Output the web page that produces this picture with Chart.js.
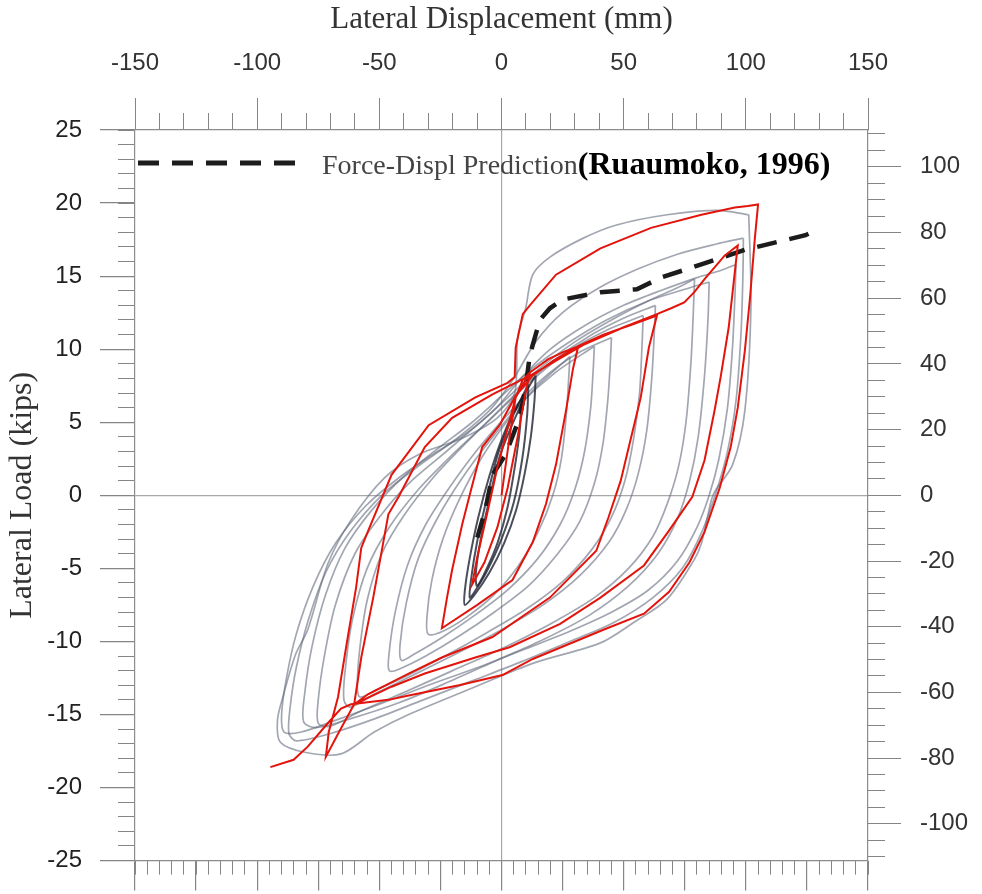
<!DOCTYPE html>
<html>
<head>
<meta charset="utf-8">
<title>Lateral Load vs Lateral Displacement</title>
<script src="https://cdn.jsdelivr.net/npm/chart.js@4.4.1/dist/chart.umd.min.js"></script>
<style>
    html, body { margin: 0; padding: 0; background: #fff; }
    #wrap { position: relative; width: 982px; height: 894px; }
    #legend-line { position: absolute; left: 136px; top: 158px; }
    #legend-text { position: absolute; left: 322px; top: 145px; white-space: nowrap; line-height: 1; }
    #legend-text .pred { font: 28px 'Liberation Serif', 'Times New Roman', serif; color: #444; }
    #legend-text .ref { font: bold 32px 'Liberation Serif', 'Times New Roman', serif; color: #000; }
</style>
</head>
<body>
<div id="wrap">
    <canvas id="chart"></canvas>
    <svg id="legend-line" width="170" height="10">
        <line x1="2" y1="5" x2="164" y2="5" stroke="#1c1c1c" stroke-width="5" stroke-dasharray="21 13"/>
    </svg>
    <div id="legend-text"><span class="pred">Force-Displ Prediction</span><span class="ref">(Ruaumoko, 1996)</span></div>
</div>
<script>
// Tick labels
const mmTicks = [-150, -100, -50, 0, 50, 100, 150]
const kipTicks = [-25, -20, -15, -10, -5, 0, 5, 10, 15, 20, 25]
const kNTicks = [-100, -80, -60, -40, -20, 0, 20, 40, 60, 80, 100]

// Ruaumoko analysis, [displacement mm, load kips]
const ruaumoko = [
    [0, 0], [3.3, 4.0], [5.8, 6.7], [8.7, 7.9], [11.6, 8.4],
    [9.5, 6.7], [6.6, 4.0], [2.5, 0.5], [-1.7, -2.2], [-7.0, -4.6], [-12.0, -6.1],
    [-9.9, -4.2], [-5.8, -1.2], [-1.7, 1.9], [2.5, 4.6], [5.8, 6.7], [11.6, 8.4],
    [19.0, 9.3], [25.2, 9.8], [31.4, 10.2],
    [29.3, 8.7], [26.4, 5.8], [22.3, 2.1], [18.2, -0.6], [12.8, -3.2], [4.5, -5.8], [-9.9, -7.5], [-24.4, -9.1],
    [-22.3, -7.0], [-20.2, -5.1], [-16.1, -2.0], [-13.2, -0.1], [-7.9, 3.3], [-0.8, 4.8], [5.8, 6.8],
    [12.8, 8.2], [21.1, 9.2], [31.4, 10.2], [41.7, 11.0], [52.1, 11.6], [63.6, 12.3],
    [60.3, 10.1], [57.0, 6.7], [52.1, 3.3], [48.8, 1.0], [43.8, -1.5], [38.8, -3.8], [19.8, -7.0],
    [-3.7, -9.7], [-24.4, -11.1], [-38.0, -12.2], [-54.5, -13.6], [-60.3, -14.3],
    [-57.4, -11.1], [-52.5, -7.0], [-46.3, -1.3], [-42.1, -0.1], [-31.4, 3.3], [-20.2, 5.3], [-3.7, 6.9],
    [12.8, 8.3], [33.5, 10.3], [50.0, 11.5], [63.6, 12.4],
    [69.4, 12.8], [74.8, 13.2], [78.9, 13.9], [83.1, 14.8], [91.3, 16.4], [96.7, 17.1],
    [95.9, 15.9], [93.0, 11.5], [89.7, 8.1], [87.2, 5.8], [83.1, 2.4], [78.1, -0.1], [68.2, -2.5],
    [58.3, -4.8], [40.5, -7.0], [24.0, -8.8], [3.3, -10.4], [-10.7, -11.1], [-31.4, -12.2],
    [-45.0, -13.1], [-60.3, -14.3], [-66.5, -16.2], [-71.9, -17.9],
    [-70.7, -16.2], [-66.9, -13.8], [-63.6, -10.4], [-59.5, -6.3], [-57.4, -3.6], [-54.5, -2.4],
    [-45.0, 1.4], [-29.8, 4.8], [-10.7, 6.7], [2.5, 7.7], [5.4, 8.1],
    [5.8, 10.1], [8.7, 12.4], [11.6, 13.0], [22.3, 15.1], [40.5, 16.9], [61.2, 18.3],
    [81.8, 19.2], [95.5, 19.7], [100.8, 19.8], [105.0, 19.9],
    [103.7, 17.6], [101.7, 13.5], [99.6, 9.9], [96.7, 6.0], [93.8, 3.3], [89.3, 0.5], [83.1, -2.5],
    [76.9, -4.6], [68.6, -6.6], [58.3, -8.1], [41.7, -9.2], [12.8, -11.2], [0.4, -12.3],
    [-17.4, -13.0], [-38.0, -13.7], [-46.3, -14.0], [-61.6, -14.3], [-65.7, -14.6],
    [-71.1, -15.6], [-79.3, -17.2], [-85.1, -18.1], [-94.6, -18.6]
]

// Force-displacement prediction (dashed)
const prediction = [
    [-9.9, -2.9], [-6.6, -1.0], [-3.7, 1.4], [1.7, 2.8], [7.4, 5.3], [9.9, 7.4],
    [11.6, 9.6], [15.7, 12.0], [19.8, 12.8], [25.2, 13.4], [40.5, 13.9], [55.4, 14.1],
    [65.3, 14.9], [81.8, 15.8], [99.6, 16.8], [124.4, 17.8], [127.0, 18.0]
]

// Test loops (grey)
const testLoop7 = [
    [101.2, 19.2], [102.1, 13.0], [99.6, 5.8], [94.6, 2.1], [86.8, 0.1], [84.3, -1.5], [81.8, -3.3],
    [78.9, -4.4], [67.8, -7.1], [54.1, -8.7], [40.5, -10.1], [12.8, -11.5], [-10.7, -13.1],
    [-38.0, -15.0], [-52.1, -16.2], [-65.7, -17.7], [-80.0, -17.6], [-90.5, -16.9], [-91.7, -15.4],
    [-89.3, -13.7], [-84.3, -10.9], [-79.3, -9.2], [-71.1, -4.7], [-61.6, -1.7], [-47.9, 1.2],
    [-33.9, 2.8], [-16.1, 3.9], [-1.7, 5.3], [5.4, 7.0], [6.6, 10.8], [9.9, 12.8], [12.8, 15.1],
    [19.8, 16.3], [33.5, 17.6], [47.1, 18.5], [67.8, 19.2], [88.4, 19.5], [101.2, 19.2]
]
const testLoop6b = [
    [99.0, 17.6], [98.8, 15.0], [98.0, 11.0], [96.0, 6.5], [92.5, 3.0], [88.0, 0.3], [82.0, -2.5],
    [74.0, -5.0], [62.0, -7.0], [46.0, -8.7], [28.0, -10.0], [8.0, -11.4], [-12.0, -12.7],
    [-32.0, -14.0], [-52.0, -15.3], [-70.0, -16.3], [-84.0, -16.8], [-87.0, -16.3], [-86.5, -14.5],
    [-84.0, -11.8], [-79.0, -8.5], [-72.0, -5.3], [-62.0, -2.5], [-49.0, 0.0], [-34.0, 2.0],
    [-19.0, 3.8], [-5.0, 5.8], [5.0, 8.0], [14.0, 10.5], [25.0, 12.5], [40.0, 14.2], [56.0, 15.5],
    [72.0, 16.5], [88.0, 17.2], [99.0, 17.6]
]
const testLoop6 = [
    [96.0, 15.8], [95.5, 13.5], [94.5, 10.0], [92.5, 6.0], [89.0, 2.5], [85.0, 0.0], [80.0, -2.2],
    [72.0, -4.5], [60.0, -6.5], [45.0, -8.0], [28.0, -9.3], [10.0, -10.5], [-10.0, -11.8],
    [-30.0, -13.0], [-50.0, -14.3], [-68.0, -15.4], [-82.0, -16.2], [-89.0, -16.2], [-90.0, -15.0],
    [-88.0, -12.5], [-84.0, -9.5], [-77.0, -6.2], [-68.0, -3.3], [-56.0, -0.8], [-42.0, 1.2],
    [-28.0, 2.8], [-14.0, 4.3], [-2.0, 6.0], [8.0, 8.0], [20.0, 10.0], [35.0, 11.7], [50.0, 13.0],
    [65.0, 14.0], [80.0, 14.9], [90.0, 15.4], [96.0, 15.8]
]
const testLoop5b = [
    [85.0, 14.6], [84.5, 12.0], [83.0, 8.0], [80.5, 4.0], [77.0, 1.0], [72.0, -1.6], [64.0, -4.0],
    [52.0, -6.2], [36.0, -8.2], [18.0, -9.8], [-2.0, -11.3], [-22.0, -12.8], [-42.0, -14.2],
    [-62.0, -15.3], [-76.0, -15.9], [-81.0, -15.5], [-80.5, -13.5], [-77.5, -10.3], [-72.0, -6.8],
    [-64.0, -3.6], [-53.0, -1.0], [-40.0, 1.3], [-26.0, 3.2], [-12.0, 5.0], [0.0, 6.8], [12.0, 8.6],
    [27.0, 10.4], [43.0, 12.0], [60.0, 13.3], [75.0, 14.1], [85.0, 14.6]
]
const testLoop5 = [
    [79.0, 14.8], [78.5, 12.5], [77.5, 9.0], [75.5, 5.0], [72.5, 2.0], [68.0, -0.5], [62.0, -2.8],
    [52.0, -5.0], [38.0, -7.0], [20.0, -8.8], [0.0, -10.5], [-20.0, -12.0], [-40.0, -13.5],
    [-58.0, -14.8], [-70.0, -15.8], [-75.0, -15.6], [-75.0, -14.0], [-72.5, -11.0], [-68.0, -7.5],
    [-60.0, -4.0], [-50.0, -1.5], [-38.0, 0.8], [-24.0, 2.8], [-10.0, 4.8], [2.0, 6.6], [15.0, 8.6],
    [30.0, 10.5], [45.0, 12.0], [60.0, 13.3], [72.0, 14.2], [79.0, 14.8]
]
const testLoop4b = [
    [58.0, 12.3], [57.5, 10.2], [56.5, 7.0], [54.0, 3.8], [50.5, 1.0], [45.0, -1.5], [37.0, -3.7],
    [25.0, -5.9], [10.0, -7.8], [-6.0, -9.4], [-22.0, -10.9], [-38.0, -12.3], [-51.0, -13.3],
    [-58.0, -13.8], [-59.0, -13.0], [-58.0, -10.5], [-55.0, -7.2], [-49.0, -4.0], [-40.0, -1.4],
    [-28.0, 1.2], [-15.0, 3.5], [-2.0, 5.6], [12.0, 7.8], [27.0, 9.8], [43.0, 11.3], [58.0, 12.3]
]
const testLoop4 = [
    [63.0, 13.0], [62.5, 11.0], [61.5, 8.0], [59.5, 4.5], [56.0, 1.5], [51.0, -1.0], [44.0, -3.2],
    [32.0, -5.5], [17.0, -7.5], [0.0, -9.2], [-18.0, -10.8], [-36.0, -12.3], [-52.0, -13.6],
    [-62.0, -14.5], [-64.5, -14.0], [-64.0, -12.0], [-61.0, -8.5], [-55.0, -5.0], [-46.0, -2.2],
    [-34.0, 0.4], [-20.0, 2.8], [-6.0, 5.0], [8.0, 7.3], [22.0, 9.3], [37.0, 11.0], [51.0, 12.2],
    [63.0, 13.0]
]
const testLoop3b = [
    [38.0, 10.2], [37.5, 8.5], [36.5, 6.0], [34.0, 3.0], [30.0, 0.4], [24.0, -2.0], [15.0, -4.3],
    [3.0, -6.4], [-10.0, -8.1], [-24.0, -9.7], [-36.0, -10.9], [-41.0, -11.3], [-41.5, -10.2],
    [-39.0, -7.4], [-34.0, -4.3], [-26.0, -1.5], [-16.0, 1.2], [-4.0, 3.9], [8.0, 6.3], [22.0, 8.4],
    [38.0, 10.2]
]
const testLoop3 = [
    [45.0, 10.8], [44.5, 9.0], [43.5, 6.5], [41.5, 3.5], [38.0, 0.8], [32.0, -1.8], [23.0, -4.0],
    [11.0, -6.2], [-3.0, -8.0], [-17.0, -9.6], [-31.0, -11.0], [-42.0, -11.9], [-46.0, -12.0],
    [-46.0, -10.8], [-43.5, -8.0], [-38.5, -4.8], [-31.0, -2.0], [-21.0, 0.6], [-9.0, 3.3],
    [4.0, 5.8], [17.0, 8.0], [31.0, 9.7], [45.0, 10.8]
]
const testLoop2 = [
    [28.0, 9.5], [27.5, 8.0], [26.5, 5.5], [24.5, 2.5], [21.0, 0.0], [15.0, -2.5], [7.0, -4.8],
    [-3.0, -6.8], [-14.0, -8.3], [-24.0, -9.3], [-30.0, -9.5], [-30.5, -8.3], [-28.5, -5.8],
    [-24.0, -3.0], [-17.0, -0.2], [-8.0, 2.6], [2.0, 5.0], [13.0, 7.2], [22.0, 8.6], [28.0, 9.5]
]

// Early cycles (dark)
const testLoop1 = [
    [14.0, 8.2], [13.5, 6.5], [12.0, 4.0], [9.5, 1.5], [6.0, -1.0], [1.0, -3.3], [-5.0, -5.3],
    [-11.0, -6.8], [-15.0, -7.5], [-15.0, -6.5], [-13.0, -4.3], [-9.5, -1.5], [-5.0, 1.3],
    [0.0, 3.8], [5.0, 5.7], [10.0, 7.1], [14.0, 8.2]
]
const testLoop1b = [
    [11.0, 7.6], [10.5, 5.5], [8.5, 2.5], [5.0, -0.5], [0.0, -3.0], [-6.0, -5.2], [-11.0, -6.6],
    [-13.0, -7.0], [-12.5, -5.8], [-10.0, -3.2], [-6.0, -0.2], [-1.5, 2.8], [3.5, 5.0], [8.0, 6.6],
    [11.0, 7.6]
]
const testLoop0 = [
    [8.0, 6.2], [7.5, 4.5], [5.5, 2.0], [2.5, -0.8], [-1.5, -3.2], [-6.0, -5.0], [-10.0, -6.2],
    [-10.5, -5.3], [-8.5, -3.0], [-5.0, -0.3], [-1.0, 2.5], [3.0, 4.3], [8.0, 6.2]
]

const KN_PER_KIP = 4.448
const tickGrey = '#858585'
const frameGrey = '#8c8c8c'
const serif = "'Liberation Serif', 'Times New Roman', serif"

Chart.defaults.font.family = "'Liberation Sans', Arial, sans-serif"

function toXY(points) {
    return points.map(p => ({ x: p[0], y: p[1] }))
}

function lineSet(label, points, color, width, extra) {
    return Object.assign({
        label: label,
        data: toXY(points),
        showLine: true,
        borderColor: color,
        borderWidth: width,
        pointRadius: 0,
        fill: false
    }, extra || {})
}

// Short unlabeled tick marks sitting against the frame
function minorAxis(axis, position, min, max, step, length) {
    return {
        type: 'linear',
        axis: axis,
        position: position,
        min: min,
        max: max,
        weight: 0,
        ticks: { display: false, stepSize: step, includeBounds: false },
        grid: { drawOnChartArea: false, drawTicks: true, tickLength: length, tickColor: tickGrey, tickWidth: 1 },
        border: { display: false },
        afterFit: s => { if (s.isHorizontal()) s.height = 0; else s.width = 0 }
    }
}

const zeroLine = ctx => (ctx.tick && ctx.tick.value === 0) ? '#a8a8a8' : 'rgba(0,0,0,0)'

const greyColor = 'rgba(100,107,125,0.6)'
const darkColor = 'rgba(30,35,50,0.8)'

const greyLoops = [testLoop2, testLoop3, testLoop3b, testLoop4, testLoop4b, testLoop5, testLoop5b, testLoop6, testLoop6b, testLoop7]
const darkLoops = [testLoop0, testLoop1b, testLoop1]

const datasets = [
    lineSet('Ruaumoko', ruaumoko, '#e3140c', 2, { tension: 0 }),
    lineSet('Force-Displ Prediction', prediction, '#1c1c1c', 4.5, { borderDash: [20, 13], tension: 0 })
]
darkLoops.forEach((loop, i) => {
    datasets.push(lineSet('Early cycle ' + i, loop, darkColor, 2, { tension: 0.3 }))
})
greyLoops.forEach((loop, i) => {
    datasets.push(lineSet('Test cycle ' + i, loop, greyColor, 1.7, { tension: 0.3 }))
})

const canvas = document.getElementById('chart')
canvas.width = 982
canvas.height = 894

new Chart(canvas, {
    type: 'scatter',
    data: { datasets: datasets },
    options: {
        responsive: false,
        animation: false,
        layout: { padding: 0 },
        plugins: {
            legend: { display: false },
            tooltip: { enabled: false }
        },
        scales: {
            x: {
                type: 'linear', position: 'bottom', min: -150, max: 150, weight: 1,
                ticks: { display: false, stepSize: 25 },
                grid: { drawOnChartArea: true, color: zeroLine, tickColor: tickGrey, tickLength: 30, lineWidth: 1.2 },
                border: { display: true, color: frameGrey, width: 1.2 },
                afterFit: s => { s.height = 32 }
            },
            xMinor: minorAxis('x', 'bottom', -150, 150, 5, 14),
            xTop: {
                type: 'linear', axis: 'x', position: 'top', min: -150, max: 150, weight: 1,
                afterBuildTicks: s => { s.ticks = mmTicks.map(v => ({ value: v })) },
                ticks: { padding: 20, color: '#333', font: { size: 24 }, autoSkip: false, maxRotation: 0 },
                grid: { drawOnChartArea: false, tickColor: tickGrey, tickLength: 32 },
                border: { display: true, color: frameGrey, width: 1.2 },
                title: {
                    display: true, text: 'Lateral Displacement (mm)', color: '#333',
                    font: { family: serif, size: 31 },
                    padding: { top: 1, bottom: 0 }
                },
                afterFit: s => { s.height = 130 }
            },
            xTopMinor: minorAxis('x', 'top', -150, 150, 10, 17),
            y: {
                type: 'linear', position: 'left', min: -25, max: 25, weight: 1,
                afterBuildTicks: s => { s.ticks = kipTicks.map(v => ({ value: v })) },
                ticks: { padding: 18, color: '#222', font: { size: 24 }, autoSkip: false },
                grid: { drawOnChartArea: true, color: zeroLine, tickColor: tickGrey, tickLength: 35, lineWidth: 1.2 },
                border: { display: true, color: frameGrey, width: 1.2 },
                title: {
                    display: true, text: 'Lateral Load (kips)', color: '#333',
                    font: { family: serif, size: 32 },
                    padding: { top: 3, bottom: 0 }
                },
                afterFit: s => { s.width = 135 }
            },
            yMinor: minorAxis('y', 'left', -25, 25, 1, 17),
            yR: {
                type: 'linear', axis: 'y', position: 'right',
                min: -25 * KN_PER_KIP, max: 25 * KN_PER_KIP, weight: 1,
                afterBuildTicks: s => { s.ticks = kNTicks.map(v => ({ value: v })) },
                ticks: { padding: 19, color: '#333', font: { size: 24 }, autoSkip: false },
                grid: { drawOnChartArea: false, tickColor: tickGrey, tickLength: 33 },
                border: { display: true, color: frameGrey, width: 1.2 },
                afterFit: s => { s.width = 114 }
            },
            yRMinor: minorAxis('y', 'right', -25 * KN_PER_KIP, 25 * KN_PER_KIP, 5, 17)
        }
    }
})
</script>
</body>
</html>
